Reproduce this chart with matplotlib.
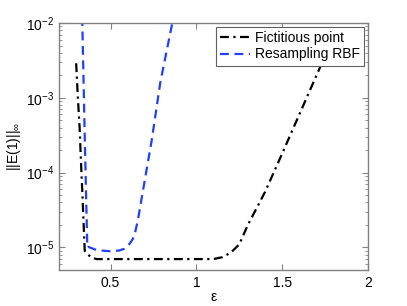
import matplotlib
matplotlib.use("Agg")
import matplotlib.pyplot as plt
from matplotlib.ticker import FixedLocator, FixedFormatter, LogLocator

plt.rcParams['font.family'] = ['Liberation Sans', 'DejaVu Sans']
plt.rcParams['mathtext.default'] = 'regular'
plt.rcParams['mathtext.fontset'] = 'custom'
plt.rcParams['mathtext.rm'] = 'Liberation Sans'
plt.rcParams['mathtext.it'] = 'Liberation Sans'

# Data
fict_eps = [0.30, 0.31, 0.32, 0.327, 0.335, 0.345, 0.35, 0.37, 0.39, 0.42, 0.6, 0.8, 1.0, 1.10,
            1.15, 1.20, 1.25, 1.30, 1.40, 1.50, 1.60, 1.70, 1.80]
fict_err = [2.9e-3, 1.0e-3, 4.0e-4, 1.6e-4, 6.0e-5, 1.7e-5, 9.0e-6, 8.0e-6, 7.3e-6, 7.0e-6, 7.0e-6,
            7.0e-6, 7.0e-6, 7.0e-6, 7.4e-6, 8.5e-6, 1.1e-5, 2.0e-5, 5.5e-5, 1.8e-4, 6.0e-4, 2.0e-3, 6.5e-3]

resamp_eps = [0.335, 0.35, 0.36, 0.365, 0.37, 0.42, 0.50, 0.55, 0.58, 0.60, 0.615, 0.63, 0.645,
              0.66, 0.70, 0.74, 0.79, 0.87]
resamp_err = [1.2e-2, 3.0e-4, 3.0e-5, 1.0e-5, 1.02e-5, 9.2e-6, 8.9e-6, 9.1e-6, 9.6e-6, 1.05e-5,
              1.15e-5, 1.3e-5, 1.65e-5, 2.35e-5, 8.0e-5, 2.7e-4, 1.6e-3, 1.3e-2]

labels = ['Fictitious point', 'Resampling RBF']
xticks = [0.5, 1, 1.5, 2]
xticklabels = ['0.5', '1', '1.5', '2']

fig = plt.figure(figsize=(4.07, 3.06), dpi=100)
ax = fig.add_axes([59/407, (306-270)/306, (368-59)/407, (270-23)/306])

ax.semilogy(fict_eps, fict_err, color='black', linestyle=(0, (4, 2, 1, 2)), lw=1.6, label=labels[0])
ax.semilogy(resamp_eps, resamp_err, color='#2040ff', linestyle=(0, (4, 2.5)), lw=1.6, label=labels[1])

ax.set_xlim(0.2, 2)
ax.set_ylim(5e-6, 1e-2)
ax.xaxis.set_major_locator(FixedLocator(xticks))
ax.xaxis.set_major_formatter(FixedFormatter(xticklabels))
ax.yaxis.set_major_locator(LogLocator(base=10, numticks=10))
ax.yaxis.set_minor_locator(LogLocator(base=10, subs=range(2, 10), numticks=20))

for s in ax.spines.values():
    s.set_color('#808080')
    s.set_linewidth(1.0)
ax.tick_params(which='both', direction='in', top=True, right=True, color='#808080', labelsize=10,
               labelcolor='black')
ax.tick_params(which='major', length=4)
ax.tick_params(which='minor', length=2)
ax.tick_params(axis='x', pad=4)

ax.set_xlabel('ε', fontsize=10, labelpad=0)
ax.set_ylabel('||E(1)||$_{\\infty}$', fontsize=10, labelpad=2)

leg = ax.legend(loc='upper right', fontsize=10, frameon=True, fancybox=False, borderpad=0.3,
                labelspacing=0.15, handlelength=2.2, handletextpad=0.3, borderaxespad=0.3)
leg.get_frame().set_edgecolor('#606060')
leg.get_frame().set_linewidth(0.8)
leg.get_frame().set_alpha(1.0)

fig.savefig('out.png', dpi=100)
